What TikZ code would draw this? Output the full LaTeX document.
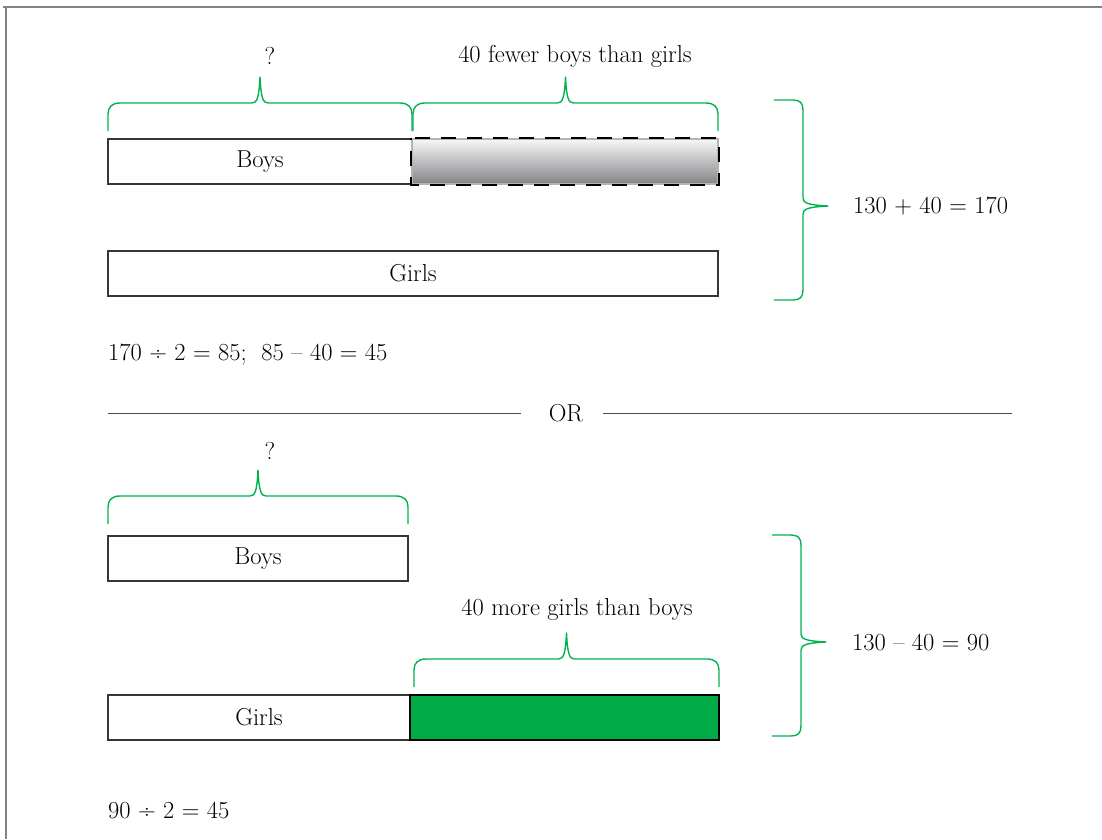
\documentclass[tikz,border=0pt]{standalone}
\usepackage{fontspec}
\setmainfont{Latin Modern Roman}
\definecolor{bracegreen}{RGB}{0,178,80}
\definecolor{fillgreen}{RGB}{0,170,70}
\definecolor{barline}{RGB}{55,55,55}
\definecolor{framegray}{RGB}{130,130,130}
\tikzset{
  bar/.style={draw=barline, line width=1.5pt, fill=white, inner sep=0pt, minimum height=45pt},
  diffbar/.style={draw=framegray!60, line width=1.5pt, inner sep=0pt, minimum height=45pt,
    top color={rgb,255:red,248;green,248;blue,248}, bottom color={rgb,255:red,132;green,132;blue,136}},
  greenbar/.style={draw=black, line width=2pt, fill=fillgreen, inner sep=0pt, minimum height=45pt},
  brace/.style={draw=bracegreen, line width=1.4pt, line join=round},
  lbl/.style={inner sep=0pt, font=\fontsize{24.5}{28}\selectfont},
  sep/.style={draw=black!70, line width=1pt},
}
% horizontal brace over [#1,#2], ends at height #3 (y grows downward)
\newcommand\spanbrace[3]{%
  \draw[brace] (#1,#3) -- (#1,#3-17)
    .. controls (#1,#3-24) and (#1+4,#3-28) .. (#1+12,#3-28)
    -- ({(#1+#2)/2-8},#3-28)
    .. controls ({(#1+#2)/2-3},#3-28) and ({(#1+#2)/2-1},#3-33) .. ({(#1+#2)/2},#3-54)
    .. controls ({(#1+#2)/2+1},#3-33) and ({(#1+#2)/2+3},#3-28) .. ({(#1+#2)/2+8},#3-28)
    -- (#2-12,#3-28)
    .. controls (#2-4,#3-28) and (#2,#3-24) .. (#2,#3-17) -- (#2,#3);}
% vertical brace: open ends at x=#1, spine at x=#2, tip at x=#3; top #4, tip #5, bottom #6
\newcommand\sidebrace[6]{%
  \draw[brace] (#1,#4) -- (#2-10,#4)
    .. controls (#2-3,#4) and (#2,#4+3) .. (#2,#4+10)
    -- (#2,#5-8)
    .. controls (#2,#5-3) and (#2+5,#5-1) .. (#3,#5)
    .. controls (#2+5,#5+1) and (#2,#5+3) .. (#2,#5+8)
    -- (#2,#6-10)
    .. controls (#2,#6-3) and (#2-3,#6) .. (#2-10,#6) -- (#1,#6);}
\begin{document}
\begin{tikzpicture}[x=1pt, y=-1pt]
  \useasboundingbox (0,0) rectangle (1102,839);
  % page frame (top and left edges)
  \draw[framegray, line width=2pt] (3,6.5) -- (1102,6.5);
  \draw[framegray, line width=2pt] (5.5,6) -- (5.5,839);

  % ---------- first method ----------
  \node[lbl] (q1) at (270,56) {?};
  \node[lbl] (fewer) at (575,56) {40 fewer boys than girls};
  \spanbrace{108}{412}{131}
  \spanbrace{413}{718}{131}

  \node[bar, minimum width=304pt] (boys1) at (260,161.5) {};
  \node[lbl] at (boys1.center) {Boys};
  \node[diffbar, minimum width=306pt] (extra1) at (565,161.5) {};
  \draw[black, line width=1.6pt, dash pattern=on 15pt off 11pt, dash phase=-4pt]
    (extra1.north west) -- (extra1.north east) -- (extra1.south east) -- (extra1.south west) -- cycle;

  \node[bar, minimum width=610pt] (girls1) at (413,273.5) {};
  \node[lbl] at (girls1.center) {Girls};

  \sidebrace{774}{803}{828}{100}{206}{300}
  \node[lbl, anchor=west] (sum) at (853,206) {130 + 40 = 170};

  \node[lbl, anchor=west] (calc1) at (108,355) {170 ÷ 2 = 85;\ \ 85 – 40 = 45};

  % ---------- divider ----------
  \node[lbl] (or) at (566,413) {OR};
  \draw[sep] (108,413) -- (521,413);
  \draw[sep] (603,413) -- (1012,413);

  % ---------- second method ----------
  \node[lbl] (q2) at (270,451) {?};
  \spanbrace{108}{408}{524}
  \node[bar, minimum width=300pt] (boys2) at (258,558.5) {};
  \node[lbl] at (boys2.center) {Boys};

  \node[lbl] (more) at (577,609) {40 more girls than boys};
  \spanbrace{414}{719}{687}

  \node[bar, minimum width=302pt] (girls2) at (259,717.5) {};
  \node[lbl] at (girls2.center) {Girls};
  \node[greenbar, minimum width=309pt] (extra2) at (564.5,717.5) {};

  \sidebrace{772}{801}{826}{535}{642}{736}
  \node[lbl, anchor=west] (diff) at (852,642) {130 – 40 = 90};

  \node[lbl, anchor=west] (calc2) at (108,810) {90 ÷ 2 = 45};
\end{tikzpicture}
\end{document}
